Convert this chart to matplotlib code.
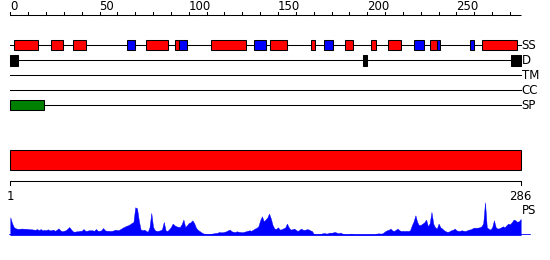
import matplotlib
matplotlib.use("Agg")
import matplotlib.pyplot as plt
from matplotlib.patches import Rectangle

# ---------------- data ----------------
seq_len = 286
ruler_ticks = list(range(0, 290, 10))
ruler_labels = [0, 50, 100, 150, 200, 250]
track_names = ["SS", "D", "TM", "CC", "SP"]

helix_start = [2, 23, 35, 76, 92.5, 112.6, 145.7, 168.7, 187.7, 202, 211.8, 235.3, 264.5]
helix_end   = [15.7, 29.7, 42.6, 88.5, 94.7, 131.9, 154.9, 170.8, 191.9, 204.7, 218.8, 238.9, 283.8]
strand_start = [65.6, 94.7, 136.7, 175.6, 226.2, 238.9, 257.8]
strand_end   = [69.7, 98.8, 143.1, 180.7, 231.6, 240.6, 259.7]
disorder_start = [0, 197.6, 280.6]
disorder_end   = [4.1, 199.9, 286]
signal_start = [0]
signal_end = [18.7]
domain_start = [0]
domain_end = [286]

ps_values = [
    18, 12, 8, 7, 6.5, 6.5, 6.7, 6.7, 6.5, 6.5,            # 0-9
    6.3, 6, 6, 5.7, 5.5, 6.3, 5, 6.3, 5, 5.5,              # 10-19
    5, 6, 5, 5, 5.7, 4.5, 5.5, 7, 5, 4,                    # 20-29
    4.5, 5, 6.5, 8.3, 6, 4, 3.5, 4, 4, 4.5,                # 30-39
    4.5, 6.3, 4.5, 4.5, 5, 5, 5, 4.5, 6.3, 4.5,            # 40-49
    4.5, 5, 7.3, 5, 4.5, 4.5, 4.3, 4.5, 5, 5.7,            # 50-59
    5, 5.5, 6.5, 7.7, 8.5, 9.5, 10, 11, 12.3, 13.3,        # 60-69
    28, 27, 15, 6, 5, 5.7, 4.5, 3.5, 8, 22.3,              # 70-79
    8.3, 5, 4.3, 4.5, 5, 6, 13.3, 5, 4.3, 6,               # 80-89
    8.3, 11.7, 10, 9, 8.5, 8.3, 11, 15.7, 8.3, 10,         # 90-99
    12.3, 13, 15, 12.3, 7.7, 5.5, 4.3, 3, 2, 1.3,          # 100-109
    1, 1, 1.3, 1.7, 2, 2.3, 2.5, 3.3, 3, 3,                # 110-119
    3.5, 4, 5, 5.7, 4, 3.5, 3.3, 4, 3.5, 3.3,              # 120-129
    3, 3.5, 4, 4.5, 5, 4.5, 5.5, 6.7, 7.5, 9,              # 130-139
    15, 19, 14, 15.7, 17.7, 21.7, 16.7, 10, 6.7, 6.5,      # 140-149
    8, 5.7, 6, 7, 7.7, 11.7, 8, 5.7, 6, 6.7,               # 150-159
    5.5, 4.3, 5.5, 6.7, 5.5, 5.5, 6, 6, 5, 4.3,            # 160-169
    1.5, 1, 1, 1.2, 1.5, 2, 2.3, 1.7, 2, 2.7,              # 170-179
    2.5, 3, 3.3, 2.5, 2, 2.7, 1.7, 1, 0.8, 0.8,            # 180-189
    1, 1.7, 1, 0.8, 0.8, 0.8, 0.8, 0.8, 0.8, 0.8,          # 190-199
    0.8, 0.8, 0.8, 0.8, 0.8, 1, 2, 1.8, 1.7, 2.5,          # 200-209
    4, 5, 5.5, 6.7, 5, 4.3, 5.5, 6.7, 5, 4.3,              # 210-219
    4.5, 4.3, 4.5, 4.3, 5, 10, 14, 20, 13.3, 10,           # 220-229
    10.5, 11.7, 13, 15.7, 9, 12, 23.3, 11.7, 8, 6.7,       # 230-239
    11.7, 8, 6.7, 5, 4, 3.3, 4, 5, 5.5, 6.7,               # 240-249
    5, 4.3, 4.5, 5, 4.5, 4.3, 5, 5.7, 6, 7,                # 250-259
    7.7, 7.5, 7.7, 8, 9, 12, 33, 8, 6.5, 5.7,              # 260-269
    8, 15, 8, 6.7, 7, 8, 9, 8, 10, 11.7,                   # 270-279
    11, 13, 15.7, 15, 13.5, 14, 16.3,                      # 280-286
]
ps_positions = list(range(len(ps_values)))

# ---------------- layout ----------------
W, H = 550, 260
DPI = 100
x0_px, scale = 10.3, 1.7846          # pixel of residue 0, pixels per residue
xmin = -x0_px / scale
xmax = (W - x0_px) / scale

RED = (1, 0, 0)
BLUE = (0, 0, 1)
GREEN = (0, 0.5, 0)
FS = 8.5

fig = plt.figure(figsize=(W / DPI, H / DPI), dpi=DPI)
ax = fig.add_axes([0, 0, 1, 1])
ax.set_xlim(xmin, xmax)
ax.set_ylim(H, 0)
ax.axis("off")

lw = 0.75

# top ruler
ruler_y = 15
ax.plot([0, seq_len], [ruler_y, ruler_y], color="black", lw=lw, solid_capstyle="butt")
for t in ruler_ticks:
    ax.plot([t, t], [ruler_y, ruler_y - 3], color="black", lw=lw)
for t in ruler_labels:
    ax.text(t, 10.5, str(t), ha="left", va="baseline", fontsize=FS,
            family="DejaVu Sans")

# tracks
row_y = {"SS": 45.3, "D": 60.3, "TM": 75.3, "CC": 90.3, "SP": 105.3}
for name in track_names:
    y = row_y[name]
    ax.plot([0, seq_len], [y, y], color="black", lw=lw, zorder=1)
    ax.text(seq_len + 0.5, y + 0.3, name, ha="left", va="center", fontsize=FS,
            family="DejaVu Sans")

def boxes(starts, ends, y, h, color):
    for s, e in zip(starts, ends):
        ax.add_patch(Rectangle((s, y - h / 2), e - s, h, facecolor=color,
                               edgecolor="black", lw=lw, zorder=3))

boxes(helix_start, helix_end, row_y["SS"], 10, RED)
boxes(strand_start, strand_end, row_y["SS"], 10, BLUE)
boxes(disorder_start, disorder_end, row_y["D"], 10.5, "black")
boxes(signal_start, signal_end, row_y["SP"], 10, GREEN)

# domain bar
boxes(domain_start, domain_end, 160.3, 20, RED)

# bottom ruler
by = 180.5
ax.plot([0, seq_len], [by, by], color="black", lw=lw)
ax.plot([0, 0], [by, by + 4.5], color="black", lw=lw)
ax.plot([seq_len, seq_len], [by, by + 4.5], color="black", lw=lw)
ax.text(0, 196, "1", ha="center", va="center", fontsize=FS, family="DejaVu Sans")
ax.text(seq_len, 196, "286", ha="center", va="center", fontsize=FS, family="DejaVu Sans")
ax.text(seq_len + 0.5, 211, "PS", ha="left", va="center", fontsize=FS, family="DejaVu Sans")

# profile
base_px = 235.3
band_px = 40
pax = fig.add_axes([0, (H - base_px) / H, 1, band_px / H])
pax.set_xlim(xmin, xmax)
pax.set_ylim(0, band_px)
pax.axis("off")
pax.fill_between(ps_positions, 0, ps_values, color=BLUE, lw=0.3, edgecolor=BLUE)
pax.plot([0, seq_len + 5], [0, 0], color=BLUE, lw=1.2)

fig.savefig("out.png", dpi=DPI)
